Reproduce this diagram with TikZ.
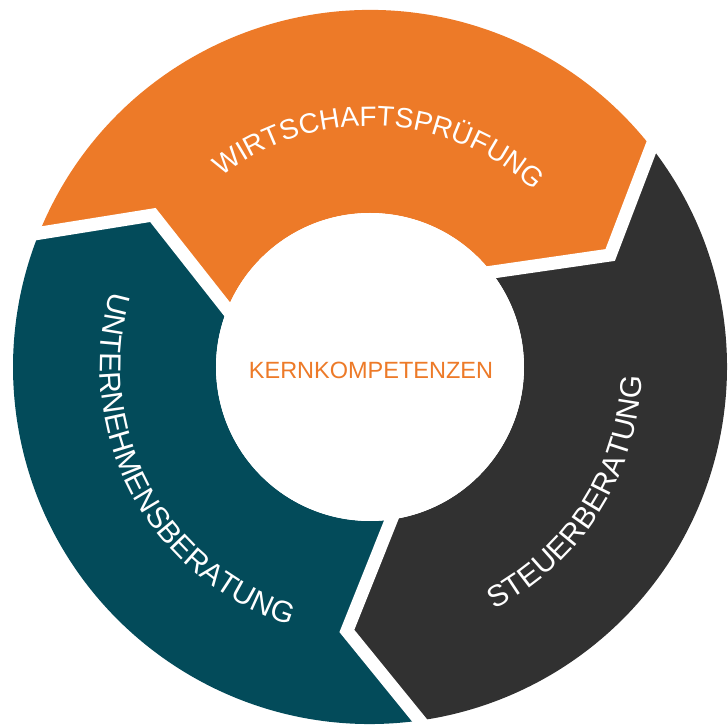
\documentclass[tikz,border=0pt]{standalone}
\usepackage{fontspec}
\setmainfont{Liberation Sans}
\usetikzlibrary{decorations.text}
\definecolor{segorange}{HTML}{ED7A28}
\definecolor{segteal}{HTML}{034B5A}
\definecolor{segdark}{HTML}{313131}
\newcommand\arcfontA{\fontsize{28}{28}\selectfont}
\newcommand\arcfontB{\fontsize{30}{30}\selectfont}
\begin{document}
\begin{tikzpicture}[
  gapline/.style={draw=white, line width=13pt, line join=miter, miter limit=10, line cap=rect},
]
\useasboundingbox (-370pt,-360pt) rectangle (358pt,367pt);
\def\R{357pt}\def\ri{154pt}\def\rt{265pt}
\foreach \b/\c in {158/segorange, 38/segdark, -82/segteal} {
  \fill[\c] (\b:\R) arc[start angle=\b, end angle=\b-120, radius=\R]
    -- (\b-133:\rt) -- (\b-120:\ri)
    arc[start angle=\b-120, end angle=\b, radius=\ri]
    -- (\b-13:\rt) -- cycle;
}
\foreach \b in {158,38,-82} {
  \draw[gapline] (\b:\R) -- (\b-13:\rt) -- (\b:\ri);
}
\node[circle, fill=white, minimum size=308pt, inner sep=0pt] (core) at (0,0) {};
\node[text=segorange, font=\fontsize{23.5}{28}\selectfont, inner sep=0pt] (kern) at (1pt,-3pt) {KERNKOMPETENZEN};
\path[decorate, decoration={text along path, text align=center, text color=white,
  text={|\arcfontA|WIRTSCHAFTSPRÜFUNG}}]
  (147.5:241pt) arc[start angle=147.5, end angle=27.5, radius=241pt];
\path[decorate, decoration={text along path, text align=center, text color=white,
  text={|\arcfontB|UNTERNEHMENSBERATUNG}}]
  (148.3:270pt) arc[start angle=148.3, end angle=268.3, radius=270pt];
\path[decorate, decoration={text along path, text align=center, text color=white,
  text={|\arcfontB|STEUERBERATUNG}}]
  (-92.4:272pt) arc[start angle=-92.4, end angle=27.6, radius=272pt];
\end{tikzpicture}
\end{document}
